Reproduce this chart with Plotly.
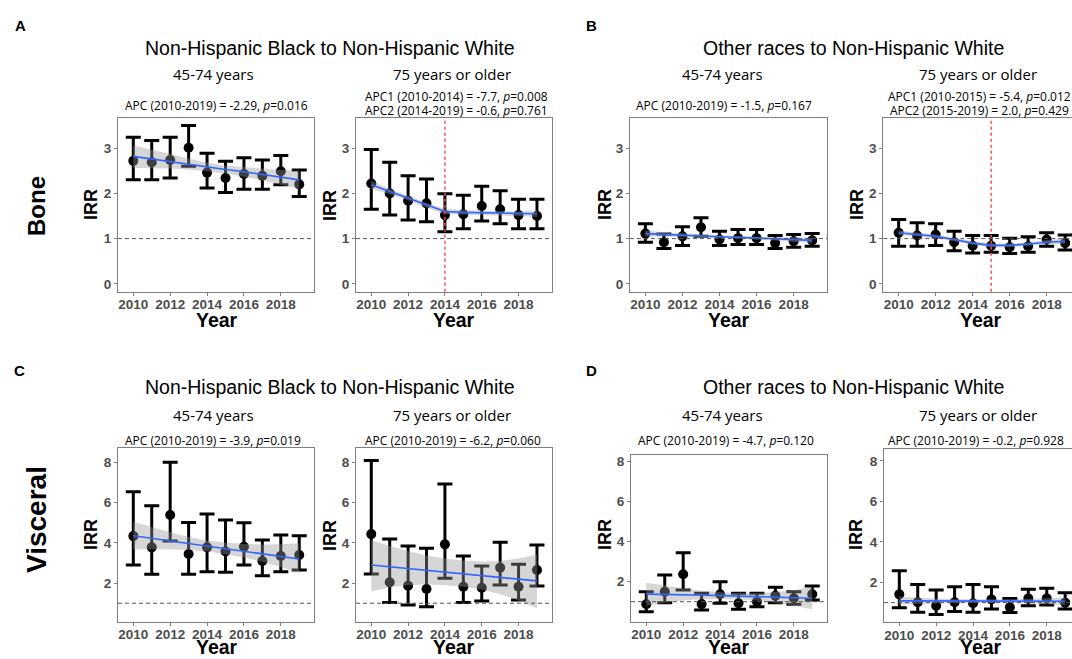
import plotly.graph_objects as go

# ---------------- data ----------------
years = [2010, 2011, 2012, 2013, 2014, 2015, 2016, 2017, 2018, 2019]
year_ticks = [2010, 2012, 2014, 2016, 2018]
bone_ticks = [0, 1, 2, 3]
visc_ticks = [2, 4, 6, 8]

# A: Bone, Non-Hispanic Black vs White, 45-74
a1_irr = [2.72, 2.69, 2.74, 3.01, 2.46, 2.34, 2.43, 2.39, 2.49, 2.20]
a1_lo = [2.30, 2.30, 2.34, 2.60, 2.12, 2.02, 2.09, 2.09, 2.19, 1.93]
a1_hi = [3.24, 3.17, 3.24, 3.50, 2.89, 2.71, 2.79, 2.74, 2.84, 2.52]
a1_fit = [2.82, 2.76, 2.70, 2.65, 2.59, 2.53, 2.48, 2.42, 2.36, 2.30]
a1_fit_lo = [2.56, 2.56, 2.55, 2.53, 2.49, 2.44, 2.37, 2.29, 2.20, 2.10]
a1_fit_hi = [3.06, 2.97, 2.87, 2.77, 2.68, 2.62, 2.58, 2.55, 2.52, 2.50]

# A: Bone, Non-Hispanic Black vs White, 75+
a2_irr = [2.22, 2.00, 1.84, 1.78, 1.52, 1.54, 1.72, 1.65, 1.52, 1.50]
a2_lo = [1.65, 1.52, 1.41, 1.37, 1.15, 1.22, 1.39, 1.33, 1.22, 1.22]
a2_hi = [2.97, 2.69, 2.39, 2.32, 1.99, 1.96, 2.16, 2.06, 1.87, 1.87]
a2_fit = [2.19, 2.04, 1.90, 1.74, 1.60, 1.58, 1.57, 1.56, 1.55, 1.55]
a2_fit_lo = [2.10, 1.98, 1.85, 1.69, 1.54, 1.53, 1.52, 1.51, 1.50, 1.48]
a2_fit_hi = [2.28, 2.10, 1.95, 1.79, 1.66, 1.63, 1.62, 1.61, 1.60, 1.62]

# B: Bone, Other races vs White, 45-74
b1_irr = [1.11, 0.92, 1.05, 1.25, 0.98, 1.01, 1.01, 0.90, 0.94, 0.96]
b1_lo = [0.92, 0.78, 0.85, 1.05, 0.85, 0.87, 0.87, 0.78, 0.81, 0.83]
b1_hi = [1.33, 1.10, 1.26, 1.46, 1.16, 1.20, 1.20, 1.07, 1.09, 1.11]
b1_fit = [1.11, 1.09, 1.08, 1.06, 1.04, 1.03, 1.01, 0.99, 0.98, 0.96]
b1_fit_lo = [1.04, 1.04, 1.04, 1.03, 1.01, 1.00, 0.98, 0.95, 0.93, 0.90]
b1_fit_hi = [1.18, 1.14, 1.12, 1.09, 1.07, 1.06, 1.04, 1.03, 1.03, 1.02]

# B: Bone, Other races vs White, 75+
b2_irr = [1.13, 1.07, 1.09, 0.92, 0.84, 0.84, 0.81, 0.83, 0.98, 0.90]
b2_lo = [0.83, 0.83, 0.85, 0.73, 0.68, 0.70, 0.67, 0.70, 0.83, 0.75]
b2_hi = [1.42, 1.35, 1.33, 1.16, 1.07, 1.07, 1.01, 1.04, 1.13, 1.08]
b2_fit = [1.13, 1.09, 1.05, 0.98, 0.90, 0.85, 0.85, 0.88, 0.92, 0.94]
b2_fit_lo = [1.08, 1.05, 1.01, 0.94, 0.86, 0.81, 0.81, 0.84, 0.87, 0.88]
b2_fit_hi = [1.18, 1.13, 1.09, 1.02, 0.94, 0.89, 0.89, 0.92, 0.97, 1.00]

# C: Visceral, Non-Hispanic Black vs White, 45-74
c1_irr = [4.34, 3.78, 5.39, 3.45, 3.78, 3.57, 3.81, 3.10, 3.35, 3.40]
c1_lo = [2.90, 2.44, 4.10, 2.44, 2.57, 2.54, 2.90, 2.37, 2.57, 2.65]
c1_hi = [6.55, 5.85, 8.01, 5.02, 5.44, 5.14, 5.01, 4.15, 4.39, 4.36]
c1_fit = [4.36, 4.23, 4.10, 3.97, 3.84, 3.71, 3.58, 3.46, 3.33, 3.20]
c1_fit_lo = [3.68, 3.70, 3.69, 3.65, 3.57, 3.44, 3.27, 3.06, 2.80, 2.49]
c1_fit_hi = [5.06, 4.78, 4.53, 4.30, 4.12, 4.02, 3.95, 3.92, 3.93, 3.98]

# C: Visceral, Non-Hispanic Black vs White, 75+
c2_irr = [4.44, 2.04, 1.87, 1.71, 3.93, 1.82, 1.77, 2.77, 1.82, 2.65]
c2_lo = [2.45, 1.03, 0.91, 0.83, 2.24, 1.03, 1.11, 1.91, 1.16, 1.86]
c2_hi = [8.10, 4.20, 3.85, 3.73, 6.93, 3.35, 2.85, 4.03, 2.94, 3.90]
c2_fit = [2.90, 2.81, 2.72, 2.64, 2.55, 2.46, 2.37, 2.28, 2.20, 2.11]
c2_fit_lo = [1.58, 1.80, 1.90, 1.93, 1.90, 1.82, 1.68, 1.45, 1.13, 0.75]
c2_fit_hi = [4.15, 3.85, 3.60, 3.38, 3.22, 3.12, 3.08, 3.10, 3.22, 3.43]

# D: Visceral, Other races vs White, 45-74
d1_irr = [0.87, 1.50, 2.37, 0.88, 1.37, 0.92, 1.00, 1.30, 1.17, 1.37]
d1_lo = [0.50, 0.95, 1.58, 0.58, 0.92, 0.62, 0.75, 0.95, 0.87, 1.08]
d1_hi = [1.50, 2.33, 3.45, 1.42, 2.00, 1.42, 1.42, 1.72, 1.50, 1.78]
d1_fit = [1.38, 1.37, 1.36, 1.33, 1.31, 1.28, 1.25, 1.22, 1.20, 1.17]
d1_fit_lo = [0.80, 0.95, 1.06, 1.12, 1.14, 1.12, 1.06, 0.95, 0.80, 0.62]
d1_fit_hi = [1.95, 1.80, 1.67, 1.55, 1.47, 1.43, 1.43, 1.48, 1.58, 1.75]

# D: Visceral, Other races vs White, 75+
d2_irr = [1.41, 1.02, 0.85, 1.02, 0.97, 1.16, 0.77, 1.21, 1.21, 1.00]
d2_lo = [0.75, 0.52, 0.42, 0.56, 0.52, 0.69, 0.51, 0.85, 0.88, 0.69]
d2_hi = [2.58, 1.90, 1.63, 1.79, 1.90, 1.79, 1.21, 1.66, 1.71, 1.49]
d2_fit = [1.09, 1.09, 1.09, 1.08, 1.08, 1.08, 1.08, 1.07, 1.07, 1.07]
d2_fit_lo = [0.90, 0.94, 0.97, 0.99, 1.00, 1.00, 0.99, 0.96, 0.93, 0.89]
d2_fit_hi = [1.30, 1.24, 1.20, 1.17, 1.16, 1.16, 1.17, 1.19, 1.22, 1.26]

# ---------------- layout helpers ----------------
W, H = 1072, 659


def fx(px):
    return px / W


def fy(py):
    return 1 - py / H


SANS = "Liberation Sans, Arial, sans-serif"
HUMAN = "Open Sans, Noto Sans, sans-serif"
TICKCOL = "#4D4D4D"
AXCOL = "#7F7F7F"

panels = [
    dict(irr=a1_irr, lo=a1_lo, hi=a1_hi, fit=a1_fit, flo=a1_fit_lo, fhi=a1_fit_hi,
         box=(118, 314, 117.7, 291.7), yr=[-0.175, 3.675], yt=bone_ticks,
         xr=[2009.17, 2019.8], right=True, vline=None),
    dict(irr=a2_irr, lo=a2_lo, hi=a2_hi, fit=a2_fit, flo=a2_fit_lo, fhi=a2_fit_hi,
         box=(356, 551.7, 117.7, 291.7), yr=[-0.175, 3.675], yt=bone_ticks,
         xr=[2009.17, 2019.8], right=True, vline=2014),
    dict(irr=b1_irr, lo=b1_lo, hi=b1_hi, fit=b1_fit, flo=b1_fit_lo, fhi=b1_fit_hi,
         box=(630, 827, 117.7, 291.7), yr=[-0.175, 3.675], yt=bone_ticks,
         xr=[2009.17, 2019.8], right=True, vline=None),
    dict(irr=b2_irr, lo=b2_lo, hi=b2_hi, fit=b2_fit, flo=b2_fit_lo, fhi=b2_fit_hi,
         box=(883.3, 1072, 117.7, 291.7), yr=[-0.175, 3.675], yt=bone_ticks,
         xr=[2009.17, 2019.37], right=False, vline=2015),
    dict(irr=c1_irr, lo=c1_lo, hi=c1_hi, fit=c1_fit, flo=c1_fit_lo, fhi=c1_fit_hi,
         box=(118, 314, 447.7, 621.7), yr=[0.08, 8.74], yt=visc_ticks,
         xr=[2009.17, 2019.8], right=True, vline=None),
    dict(irr=c2_irr, lo=c2_lo, hi=c2_hi, fit=c2_fit, flo=c2_fit_lo, fhi=c2_fit_hi,
         box=(356, 551.7, 447.7, 621.7), yr=[0.08, 8.74], yt=visc_ticks,
         xr=[2009.17, 2019.8], right=True, vline=None),
    dict(irr=d1_irr, lo=d1_lo, hi=d1_hi, fit=d1_fit, flo=d1_fit_lo, fhi=d1_fit_hi,
         box=(631, 827, 455, 621.7), yr=[0.0, 8.33], yt=visc_ticks,
         xr=[2009.17, 2019.8], right=True, vline=None),
    dict(irr=d2_irr, lo=d2_lo, hi=d2_hi, fit=d2_fit, flo=d2_fit_lo, fhi=d2_fit_hi,
         box=(884, 1072, 449.3, 622.3), yr=[0.03, 8.57], yt=visc_ticks,
         xr=[2009.17, 2019.37], right=False, vline=None),
]

fig = go.Figure()
layout = dict(
    width=W, height=H, margin=dict(l=0, r=0, t=0, b=0),
    paper_bgcolor="white", plot_bgcolor="white", showlegend=False,
)
shapes = []

for i, p in enumerate(panels, start=1):
    sfx = "" if i == 1 else str(i)
    xa, ya = "x" + sfx, "y" + sfx
    x0, x1, y0, y1 = p["box"]
    # points + error bars
    fig.add_trace(go.Scatter(
        x=years, y=p["irr"], mode="markers", xaxis=xa, yaxis=ya,
        marker=dict(color="black", size=10),
        error_y=dict(type="data", symmetric=False,
                     array=[h - v for h, v in zip(p["hi"], p["irr"])],
                     arrayminus=[v - l for v, l in zip(p["irr"], p["lo"])],
                     color="black", thickness=3, width=7.5),
        hoverinfo="skip"))
    # confidence ribbon (drawn over points, like ggplot)
    fig.add_trace(go.Scatter(
        x=years + years[::-1], y=p["fhi"] + p["flo"][::-1], mode="lines",
        fill="toself", fillcolor="rgba(153,153,153,0.4)", line=dict(width=0),
        xaxis=xa, yaxis=ya, hoverinfo="skip"))
    # fitted line
    fig.add_trace(go.Scatter(
        x=years, y=p["fit"], mode="lines", line=dict(color="#3366FF", width=1.6),
        xaxis=xa, yaxis=ya, hoverinfo="skip"))

    layout["xaxis" + sfx] = dict(
        domain=[fx(x0), fx(x1)], range=p["xr"], anchor=ya, tickvals=year_ticks,
        ticks="outside", ticklen=3, tickcolor=AXCOL, showline=True, linecolor=AXCOL,
        linewidth=1.2, mirror=True, showgrid=False, zeroline=False,
        ticklabelstandoff=-3,
        tickfont=dict(family=SANS, size=13.5, color=TICKCOL, weight="bold"))
    layout["yaxis" + sfx] = dict(
        domain=[fy(y1), fy(y0)], range=p["yr"], anchor=xa, tickvals=p["yt"],
        ticks="outside", ticklen=3, tickcolor=AXCOL, showline=True, linecolor=AXCOL,
        linewidth=1.2, mirror=p["right"], showgrid=False, zeroline=False,
        tickfont=dict(family=SANS, size=13.5, color=TICKCOL, weight="bold"))

    shapes.append(dict(type="line", xref=xa + " domain", yref=ya, x0=0, x1=1, y0=1, y1=1,
                       line=dict(color="#555555", width=1, dash="4px,3px"), layer="above"))
    if p["vline"] is not None:
        shapes.append(dict(type="line", xref=xa, yref=ya + " domain", x0=p["vline"],
                           x1=p["vline"], y0=0, y1=1,
                           line=dict(color="rgb(240,80,80)", width=1.5, dash="dot"),
                           layer="above"))

annotations = []


def ann(text, x, y, size, family=SANS, bold=False, angle=0, color="black",
        xanchor="center", yanchor="middle"):
    annotations.append(dict(
        text=text, x=fx(x), y=fy(y), xref="paper", yref="paper", showarrow=False,
        xanchor=xanchor, yanchor=yanchor, textangle=angle,
        font=dict(family=family, size=size, color=color, weight="bold" if bold else "normal")))


# panel letters
for t, x, y in [("A", 20, 26), ("B", 591, 26), ("C", 19, 370), ("D", 591, 370)]:
    ann(t, x, y, 15, bold=True)

# group titles
for t, x, y in [("Non-Hispanic Black to Non-Hispanic White", 330, 47.5),
                ("Other races to Non-Hispanic White", 853, 47.5),
                ("Non-Hispanic Black to Non-Hispanic White", 330, 387),
                ("Other races to Non-Hispanic White", 853, 387)]:
    ann(t, x, y, 19.5)

# age subtitles
for t, x, y in [("45-74 years", 213, 74), ("75 years or older", 452, 74),
                ("45-74 years", 722, 74), ("75 years or older", 978, 74),
                ("45-74 years", 213, 415), ("75 years or older", 452, 415),
                ("45-74 years", 722, 415), ("75 years or older", 978, 415)]:
    ann(t, x, y, 15, family=HUMAN)

# APC labels
for t, x, y in [
    ("APC (2010-2019) = -2.29, <i>p</i>=0.016", 216, 105),
    ("APC1 (2010-2014) = -7.7, <i>p</i>=0.008", 456, 96.5),
    ("APC2 (2014-2019) = -0.6, <i>p</i>=0.761", 456, 110.5),
    ("APC (2010-2019) = -1.5, <i>p</i>=0.167", 724, 105),
    ("APC1 (2010-2015) = -5.4, <i>p</i>=0.012", 979, 96.5),
    ("APC2 (2015-2019) = 2.0, <i>p</i>=0.429", 979, 110.5),
    ("APC (2010-2019) = -3.9, <i>p</i>=0.019", 213, 440),
    ("APC (2010-2019) = -6.2, <i>p</i>=0.060", 453, 440),
    ("APC (2010-2019) = -4.7, <i>p</i>=0.120", 726, 440),
    ("APC (2010-2019) = -0.2, <i>p</i>=0.928", 976, 440),
]:
    ann(t, x, y, 12, family=HUMAN)

# row labels
ann("Bone", 36, 206, 24, bold=True, angle=-90)
ann("Visceral", 36, 520, 28, bold=True, angle=-90)

# axis titles
for x, y in [(91, 205), (330, 205), (605, 205), (857, 205),
             (91, 535), (330, 535), (605, 535), (856, 535)]:
    ann("IRR", x, y, 18, bold=True, angle=-90)
for x in [217, 454, 729, 981]:
    ann("Year", x, 320, 19.5, bold=True)
    ann("Year", x, 660, 19.5, bold=True, yanchor="bottom")

layout["annotations"] = annotations
layout["shapes"] = shapes
fig.update_layout(**layout)
fig.write_html(
    "out.html",
    config={"displayModeBar": False},
    post_script="document.body.style.margin='0';document.body.style.overflow='hidden';",
)
